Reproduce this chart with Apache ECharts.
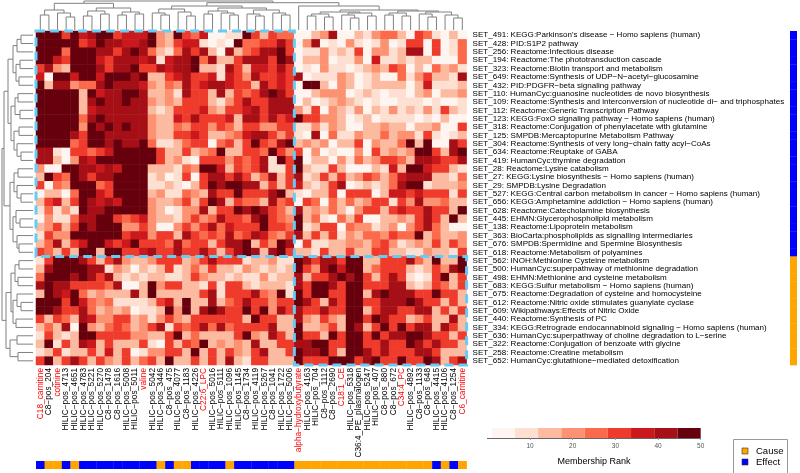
<!DOCTYPE html>
<html><head><meta charset="utf-8">
<script src="https://cdn.jsdelivr.net/npm/echarts@6/dist/echarts.min.js"></script>
<style>html,body{margin:0;padding:0;background:#fff}#c{width:800px;height:473px}</style>
</head><body><div id="c"></div>
<script>
const colLabels = ["C18_carnitine","C8−pos_204","cotinine","HILIC−pos_4713","HILIC−pos_4651","HILIC−pos_4783","HILIC−pos_5221","HILIC−pos_5270","C8−pos_1478","C8−pos_1616","HILIC−pos_5008","HILIC−pos_5011","valine","HILIC−pos_5042","HILIC−pos_3446","C8−pos_475","HILIC−pos_4077","C8−pos_1183","HILIC−pos_4226","C22:6_LPC","HILIC−pos_5016","HILIC−pos_5111","HILIC−pos_1096","HILIC−pos_1145","C8−pos_1734","HILIC−pos_4119","HILIC−pos_5267","C8−pos_1041","HILIC−pos_1722","HILIC−pos_5006","alpha−hydroxybutyrate","HILIC−pos_4163","HILIC−pos_704","C8−pos_1112","C8−pos_2690","C18:1_CE","HILIC−pos_5318","C36:4_PE_plasmalogen","HILIC−pos_5247","HILIC−pos_407","C8−pos_880","C8−pos_672","C34:4_PC","HILIC−pos_4892","C8−pos_1133","C8−pos_648","HILIC−pos_4415","HILIC−pos_4106","C8−pos_1254","C6_carnitine"];
const redLabels = ["C18_carnitine","cotinine","valine","C22:6_LPC","alpha−hydroxybutyrate","C18:1_CE","C34:4_PC","C6_carnitine"];
const rowLabels = [
"SET_491: KEGG:Parkinson's disease − Homo sapiens (human)",
"SET_428: PID:S1P2 pathway",
"SET_256: Reactome:Infectious disease",
"SET_194: Reactome:The phototransduction cascade",
"SET_323: Reactome:Biotin transport and metabolism",
"SET_649: Reactome:Synthesis of UDP−N−acetyl−glucosamine",
"SET_432: PID:PDGFR−beta signaling pathway",
"SET_110: HumanCyc:guanosine nucleotides de novo biosynthesis",
"SET_109: Reactome:Synthesis and interconversion of nucleotide di− and triphosphates",
"SET_112: Reactome:Generic Transcription Pathway",
"SET_123: KEGG:FoxO signaling pathway − Homo sapiens (human)",
"SET_318: Reactome:Conjugation of phenylacetate with glutamine",
"SET_125: SMPDB:Mercaptopurine Metabolism Pathway",
"SET_304: Reactome:Synthesis of very long−chain fatty acyl−CoAs",
"SET_634: Reactome:Reuptake of GABA",
"SET_419: HumanCyc:thymine degradation",
"SET_28: Reactome:Lysine catabolism",
"SET_27: KEGG:Lysine biosynthesis − Homo sapiens (human)",
"SET_29: SMPDB:Lysine Degradation",
"SET_527: KEGG:Central carbon metabolism in cancer − Homo sapiens (human)",
"SET_656: KEGG:Amphetamine addiction − Homo sapiens (human)",
"SET_628: Reactome:Catecholamine biosynthesis",
"SET_445: EHMN:Glycerophospholipid metabolism",
"SET_138: Reactome:Lipoprotein metabolism",
"SET_363: BioCarta:phospholipids as signalling intermediaries",
"SET_676: SMPDB:Spermidine and Spermine Biosynthesis",
"SET_618: Reactome:Metabolism of polyamines",
"SET_562: INOH:Methionine Cysteine metabolism",
"SET_500: HumanCyc:superpathway of methionine degradation",
"SET_498: EHMN:Methionine and cysteine metabolism",
"SET_683: KEGG:Sulfur metabolism − Homo sapiens (human)",
"SET_675: Reactome:Degradation of cysteine and homocysteine",
"SET_612: Reactome:Nitric oxide stimulates guanylate cyclase",
"SET_609: Wikipathways:Effects of Nitric Oxide",
"SET_440: Reactome:Synthesis of PC",
"SET_334: KEGG:Retrograde endocannabinoid signaling − Homo sapiens (human)",
"SET_636: HumanCyc:superpathway of choline degradation to L−serine",
"SET_322: Reactome:Conjugation of benzoate with glycine",
"SET_258: Reactome:Creatine metabolism",
"SET_652: HumanCyc:glutathione−mediated detoxification"];
// column type: C = Cause, E = Effect
const colGroup = ["E","C","C","E","C","E","E","E","E","E","E","E","E","E","C","E","C","C","E","E","E","E","C","E","E","E","E","E","E","E","C","C","C","C","C","C","C","C","C","C","C","C","C","C","C","C","E","C","E","C"];
const rowGroup = ["E","E","E","E","E","E","E","E","E","E","E","E","E","E","E","E","E","E","E","E","E","E","E","E","E","E","E","C","C","C","C","C","C","C","C","C","C","C","C","C"];
const groupNames = {C:"Cause", E:"Effect"};
const groupColors = {C:"#FFA500", E:"#0000FF"};
const rankBreaks = [1, 6.44, 11.89, 17.33, 22.78, 28.22, 33.67, 39.11, 44.56, 50];
const rankColors = ["#FFF5F0","#FEE0D2","#FCBBA1","#FC9272","#FB6A4A","#EF3B2C","#CB181D","#A50F15","#67000D"];
const legendTicks = [10, 20, 30, 40, 50];
// blocks framed with dashed lines: [colFrom, colTo, rowFrom, rowTo]
const blocks = [[1,30,1,27],[31,50,28,40]];
// dendrograms: [height, left, right], leaves = 1-based index
const colTree = [29,
  [26.7, [20, [15, 1, 2], [17, 3, [13, 4, 5]]], [22, [19, [14, 6, 7], [16, 8, 9]], [18, [15, 10, 11], [16, 12, 13]]]],
  [27.3,
    [24, [21, [17, 14, [15, 15, 16]], [18, 17, [14, 18, 19]]], [22, [19, [16, 20, 21], [17, 22, [15, 23, 24]]], [20, [16, 25, [14, 26, 27]], [17, 28, [15, 29, 30]]]]],
    [24, 31, [20, [18, [16, [14, 32, 33], [13, 34, 35]], [17, [15, 36, [12, 37, 38]], [14, 39, 40]]], [19, [17, [15, 41, 42], [14, 43, 44]], [18, [16, 45, [13, 46, 47]], [15, 48, [12, 49, 50]]]]]]]];
const rowTree = [31,
  [29,
    [25, [20, [16, [12, 1, 2], 3], [17, [13, 4, 5], [14, 6, 7]]], [22, [18, [15, 8, 9], [13, 10, 11]], [19, [14, 12, 13], [16, 14, [12, 15, 16]]]]],
    [23, [19, [15, 17, 18], [16, 19, [12, 20, 21]]], [20, [17, 22, [13, 23, 24]], [16, 25, [14, 26, 27]]]]],
  [27, [22, [18, [14, 28, 29], [15, 30, 31]], [20, [16, 32, [12, 33, 34]], [17, 35, 36]]], [23, [16, 37, 38], [15, 39, 40]]]];
// membership rank, rows x columns
const membership = [
[47,47,47,31,47,36,42,47,47,31,36,36,36,47,20,14,47,31,25,36,3,3,8,8,47,31,14,31,25,25,3,3,14,20,42,3,3,14,8,20,25,25,14,3,31,25,8,3,14,3],
[47,47,47,47,47,31,36,47,42,42,36,36,42,47,20,14,31,36,36,8,3,8,3,47,25,25,31,31,42,31,3,20,42,3,8,3,20,8,3,8,20,3,8,31,31,3,31,3,8,25],
[47,47,47,25,47,47,47,42,42,31,42,47,42,25,14,8,25,42,31,42,14,3,42,14,25,31,42,42,47,31,3,8,8,20,8,14,8,31,3,20,20,8,14,42,42,3,31,3,8,25],
[47,47,36,31,47,47,47,36,31,42,42,42,36,42,8,36,42,42,47,25,42,14,14,31,42,42,42,31,47,42,3,14,14,20,3,8,8,20,3,36,8,8,14,8,14,14,3,3,3,25],
[31,42,20,14,47,47,47,42,31,42,42,47,31,31,42,36,42,42,47,14,14,8,42,31,14,36,36,31,42,31,3,8,3,20,8,8,3,8,14,20,14,31,25,3,14,3,25,14,20,8],
[36,3,47,47,36,47,47,36,47,47,47,42,47,14,14,31,36,42,31,31,36,8,36,31,20,42,31,31,36,31,42,3,8,8,8,20,14,3,8,14,3,3,25,8,20,31,14,14,8,42],
[47,14,42,42,20,25,25,42,47,42,42,42,36,20,14,25,20,42,31,36,42,42,36,31,31,14,42,31,36,31,3,47,47,14,3,20,14,3,8,14,14,14,14,3,14,36,8,8,8,14],
[47,47,47,47,47,14,47,36,42,42,47,47,42,14,14,20,8,42,31,31,14,42,14,31,25,31,42,47,42,31,3,3,14,20,20,20,3,8,14,8,3,8,8,3,14,20,3,14,14,20],
[47,47,47,47,47,14,42,47,42,42,47,42,42,20,14,20,14,31,31,31,14,8,20,31,42,31,31,42,42,42,3,14,3,8,14,20,14,8,3,8,3,3,8,8,8,3,8,3,3,8],
[47,47,47,47,47,14,36,42,42,42,42,42,42,14,8,14,31,31,31,36,20,14,31,31,36,42,31,42,42,42,20,8,31,3,20,14,8,20,3,14,8,20,8,14,8,20,8,31,14,8],
[47,47,47,47,47,25,42,47,42,42,42,42,42,20,14,14,36,31,42,31,31,31,36,14,42,42,31,42,31,36,47,31,31,20,20,14,3,8,14,3,8,8,8,8,3,8,3,14,3,3],
[47,47,47,47,47,20,47,42,47,42,47,42,42,20,14,14,25,20,31,31,20,31,25,14,31,31,20,20,31,31,8,8,20,8,20,14,3,3,14,14,20,14,14,3,14,14,20,3,3,31],
[47,47,47,47,42,31,47,47,42,42,42,42,42,20,14,14,31,31,36,31,14,14,20,25,36,42,42,31,20,31,8,3,42,3,25,8,8,20,14,14,25,14,20,20,8,31,8,3,8,14],
[47,47,47,47,25,31,47,47,42,47,42,42,47,25,8,8,14,25,31,31,3,25,31,14,31,47,31,25,42,47,14,20,14,20,3,14,14,31,3,20,14,14,25,47,14,47,3,3,42,31],
[42,42,8,3,31,31,25,31,36,47,47,47,47,47,31,14,14,31,14,20,25,47,14,14,31,31,25,47,31,20,31,3,20,3,8,3,3,20,3,31,14,20,14,20,47,47,31,14,42,47],
[42,42,14,3,20,42,36,47,47,47,47,47,47,47,31,14,20,8,3,31,31,31,20,31,25,31,42,8,47,31,47,3,14,14,3,20,8,25,14,20,31,31,25,14,42,42,36,31,31,42],
[20,3,3,47,47,42,42,36,42,36,47,47,47,14,14,14,8,25,20,47,47,36,14,31,25,31,42,8,8,31,47,14,8,8,31,14,3,3,3,14,8,36,14,47,47,36,31,31,14,8],
[14,47,31,25,47,42,31,42,42,47,47,47,47,8,14,3,8,31,3,31,42,42,31,42,31,14,25,42,14,31,42,8,14,31,14,31,14,20,31,25,14,25,36,42,42,42,14,14,8,25],
[31,3,25,20,47,47,47,25,31,47,47,47,47,8,8,14,8,3,14,31,47,42,47,47,42,42,14,31,14,31,36,14,8,14,31,42,3,8,14,8,14,25,42,47,47,8,14,14,14,20],
[3,14,14,3,25,47,47,36,31,47,47,47,47,14,20,8,8,25,20,14,42,31,31,47,31,31,31,42,47,14,8,3,14,14,31,3,31,31,31,3,14,36,36,31,36,31,31,31,8,31],
[14,31,36,14,31,47,42,36,42,36,47,47,47,20,14,14,20,31,14,31,47,42,14,31,25,25,14,42,25,31,3,31,25,3,25,14,25,14,20,31,31,8,31,20,42,20,20,25,14,14],
[8,25,8,20,8,47,42,42,47,47,47,47,47,20,14,3,8,20,20,42,14,31,31,47,42,47,42,31,25,14,42,14,20,14,25,14,3,20,31,31,14,31,36,31,31,42,31,31,14,47],
[3,20,8,8,25,42,42,47,47,31,25,31,36,20,14,14,8,20,31,20,25,42,31,31,25,42,47,31,25,20,47,14,25,8,3,25,14,31,3,3,14,14,20,14,31,42,31,14,47,14],
[14,20,31,14,31,47,42,47,47,47,20,20,31,20,3,3,20,31,20,31,42,25,36,31,31,31,47,31,31,25,47,8,14,31,31,3,25,20,20,8,14,20,3,20,31,42,25,14,3,3],
[8,31,20,20,47,47,47,47,47,47,31,36,36,20,31,31,14,42,31,25,31,25,42,25,31,42,36,25,20,31,42,14,31,14,31,8,20,14,25,25,20,31,25,25,47,14,25,14,14,20],
[14,25,42,14,31,36,47,47,36,31,36,47,31,31,31,25,42,25,31,31,14,31,42,42,47,14,31,20,47,42,3,31,8,8,14,14,20,20,14,25,31,20,8,14,20,14,31,14,31,20],
[31,25,14,31,14,47,47,14,47,47,31,31,36,42,31,31,42,31,31,42,31,14,31,42,47,42,14,42,47,31,14,14,8,31,14,14,31,14,14,31,31,14,14,8,8,20,14,14,8,31],
[8,31,47,47,47,42,31,14,31,42,20,14,14,20,31,31,31,14,20,31,42,31,31,31,8,14,14,20,8,8,47,42,31,42,42,31,47,47,14,14,31,31,31,42,25,14,47,14,14,47],
[14,42,47,47,47,47,42,42,8,20,14,3,14,8,14,31,8,14,25,14,31,14,14,8,20,14,8,14,8,14,47,31,20,42,47,36,47,47,14,25,31,31,31,14,8,14,31,20,42,47],
[25,47,47,47,42,47,42,31,42,14,8,14,8,14,14,8,8,14,31,20,14,14,8,14,8,8,20,8,14,14,42,14,31,31,42,47,42,47,31,14,31,42,31,8,3,8,31,47,14,31],
[42,47,42,42,31,31,31,31,25,42,3,3,14,47,20,31,31,14,14,8,31,8,31,31,14,8,14,14,14,8,42,31,47,47,42,31,47,47,31,31,31,42,42,14,8,14,31,25,14,31],
[14,47,42,36,47,25,14,20,14,14,14,42,14,47,14,14,14,14,14,31,42,8,31,31,31,42,25,20,47,8,47,31,47,47,31,31,47,47,14,42,47,42,42,42,31,31,47,31,31,14],
[47,47,47,31,47,36,25,20,25,8,8,8,8,14,31,36,14,47,14,14,42,14,25,31,42,31,31,20,31,31,47,42,31,14,42,31,47,47,31,31,42,42,42,47,42,31,31,14,31,14],
[47,47,42,31,31,42,25,14,20,14,20,3,8,8,14,47,20,47,14,42,47,42,31,31,47,31,47,20,42,31,42,31,31,42,31,31,47,47,14,31,42,42,31,31,42,42,14,31,14,31],
[31,14,31,25,14,42,36,20,20,31,31,14,20,8,20,31,20,14,31,31,31,31,31,31,14,47,31,31,14,14,42,20,14,31,20,14,47,47,31,47,42,31,31,14,20,31,14,14,42,14],
[14,25,14,42,3,47,20,14,25,31,25,14,20,31,42,8,31,25,31,42,25,42,25,31,31,31,31,42,14,14,47,14,14,20,31,14,47,42,14,31,47,31,47,31,42,42,14,42,31,14],
[8,31,14,8,14,47,47,31,31,31,31,20,20,14,14,31,47,14,25,14,14,14,14,31,47,20,14,42,31,14,47,31,31,14,47,31,47,47,31,47,31,42,42,47,47,42,31,31,14,31],
[14,47,8,31,14,42,36,14,31,14,14,14,31,8,3,31,14,31,25,47,14,20,14,20,14,42,14,14,31,31,42,42,47,47,31,31,47,47,31,31,42,31,31,47,42,31,42,31,31,14],
[8,14,31,8,14,14,31,14,36,14,31,3,8,20,20,31,31,14,47,14,31,14,31,20,14,31,42,14,14,31,47,42,42,47,31,14,47,47,42,31,42,31,31,31,42,42,31,14,14,14],
[31,47,14,31,42,31,14,31,20,14,31,14,25,31,14,47,14,14,31,14,31,14,42,14,8,31,31,14,14,14,47,31,31,31,47,47,47,31,42,47,31,31,47,31,31,47,42,14,31,42]];

const FONT = "'Liberation Sans', Arial, Helvetica, sans-serif";
const HM = {left: 36, top: 31, width: 430.6, height: 334};

function treeSegments(tree, orient) {
  const segs = [];
  function walk(n) {
    if (typeof n === 'number') return {p: n - 0.5, h: 0};
    const a = walk(n[1]), b = walk(n[2]), h = n[0];
    const pts = [[a.p, a.h], [a.p, h], [b.p, h], [b.p, b.h]];
    segs.push({coords: orient === 'top' ? pts : pts.map(q => [q[1], q[0]])});
    return {p: (a.p + b.p) / 2, h: h};
  }
  walk(tree);
  return segs;
}

const heatData = [];
membership.forEach((row, r) => row.forEach((v, c) => heatData.push([c, r, v])));

const pieces = rankColors.map((col, i) => i < rankColors.length - 1
  ? {gte: rankBreaks[i], lt: rankBreaks[i + 1], color: col}
  : {gte: rankBreaks[i], lte: rankBreaks[i + 1], color: col});

const hidden = {show: false};
const chart = echarts.init(document.getElementById('c'), null, {width: 800, height: 473});

chart.setOption({
  animation: false,
  backgroundColor: '#fff',
  textStyle: {fontFamily: FONT},
  grid: [
    {left: HM.left, top: HM.top, width: HM.width, height: HM.height},
    {left: HM.left, top: 0, width: HM.width, height: 30},
    {left: 0, top: HM.top, width: 33, height: HM.height},
    {left: HM.left, top: 461, width: HM.width, height: 8},
    {left: 790, top: HM.top, width: 7, height: HM.height},
    {left: 487.4, top: 428, width: 213.3, height: 10}
  ],
  xAxis: [
    {gridIndex: 0, type: 'category', data: colLabels, axisLine: hidden, axisTick: hidden, splitLine: hidden,
     axisLabel: {rotate: 90, interval: 0, fontSize: 8.3, margin: 3, fontFamily: FONT,
       color: (v) => redLabels.indexOf(v) >= 0 ? '#FF0000' : '#000000'}},
    {gridIndex: 1, type: 'value', min: 0, max: 50, show: false},
    {gridIndex: 2, type: 'value', min: 0, max: 33, inverse: true, show: false},
    {gridIndex: 3, type: 'category', data: colLabels, show: false},
    {gridIndex: 4, type: 'category', data: ['g'], show: false},
    {gridIndex: 5, type: 'value', min: 0, max: 50, interval: 10, splitLine: hidden,
     axisLine: {show: true, lineStyle: {color: '#666', width: 1}},
     axisTick: {show: true, length: 2, lineStyle: {color: '#999'}},
     axisLabel: {showMinLabel: false, fontSize: 6.5, color: '#555', margin: 5, fontFamily: FONT},
     name: 'Membership Rank', nameLocation: 'middle', nameGap: 19,
     nameTextStyle: {fontSize: 9, color: '#000', fontFamily: FONT}}
  ],
  yAxis: [
    {gridIndex: 0, type: 'category', data: rowLabels, inverse: true, position: 'right',
     axisLine: hidden, axisTick: hidden, splitLine: hidden,
     axisLabel: {interval: 0, fontSize: 8.05, margin: 6, color: '#000', fontFamily: FONT}},
    {gridIndex: 1, type: 'value', min: 0, max: 30, show: false},
    {gridIndex: 2, type: 'value', min: 0, max: 40, inverse: true, show: false},
    {gridIndex: 3, type: 'category', data: ['g'], show: false},
    {gridIndex: 4, type: 'category', data: rowLabels, inverse: true, show: false},
    {gridIndex: 5, type: 'value', min: 0, max: 1, show: false}
  ],
  visualMap: {type: 'piecewise', show: false, seriesIndex: 0, dimension: 2, pieces: pieces},
  series: [
    {type: 'heatmap', xAxisIndex: 0, yAxisIndex: 0, data: heatData, progressive: 0,
     itemStyle: {borderWidth: 0}, emphasis: {disabled: true}},
    {type: 'custom', xAxisIndex: 0, yAxisIndex: 0, data: blocks, z: 5, clip: false,
     renderItem: (params, api) => {
       const b = blocks[params.dataIndex];
       const sz = api.size([1, 1]);
       const p0 = api.coord([b[0] - 1, b[2] - 1]);
       const p1 = api.coord([b[1] - 1, b[3] - 1]);
       const x0 = p0[0] - sz[0] / 2, y0 = p0[1] - sz[1] / 2;
       const x1 = p1[0] + sz[0] / 2, y1 = p1[1] + sz[1] / 2;
       return {type: 'rect', shape: {x: x0, y: y0, width: x1 - x0, height: y1 - y0},
         style: {fill: null, stroke: '#66CBF5', lineWidth: 3, lineDash: [9, 5]}};
     }},
    {type: 'lines', coordinateSystem: 'cartesian2d', xAxisIndex: 1, yAxisIndex: 1, polyline: true,
     data: treeSegments(colTree, 'top'), lineStyle: {color: '#808080', width: 1, opacity: 1}, silent: true},
    {type: 'lines', coordinateSystem: 'cartesian2d', xAxisIndex: 2, yAxisIndex: 2, polyline: true,
     data: treeSegments(rowTree, 'left'), lineStyle: {color: '#808080', width: 1, opacity: 1}, silent: true},
    {type: 'custom', xAxisIndex: 3, yAxisIndex: 3, data: colGroup.map((g, i) => [i, 0]),
     renderItem: (params, api) => {
       const i = params.dataIndex;
       const p = api.coord([i, 0]); const sz = api.size([1, 1]);
       return {type: 'rect', shape: {x: p[0] - sz[0] / 2, y: p[1] - sz[1] / 2, width: sz[0] + 0.3, height: sz[1]},
         style: {fill: groupColors[colGroup[i]]}};
     }},
    {type: 'custom', xAxisIndex: 4, yAxisIndex: 4, data: rowGroup.map((g, i) => [0, i]),
     renderItem: (params, api) => {
       const i = params.dataIndex;
       const p = api.coord([0, i]); const sz = api.size([1, 1]);
       return {type: 'rect', shape: {x: p[0] - sz[0] / 2, y: p[1] - sz[1] / 2, width: sz[0], height: sz[1] + 0.3},
         style: {fill: groupColors[rowGroup[i]]}};
     }},
    {type: 'custom', xAxisIndex: 5, yAxisIndex: 5, data: rankColors.map((c, i) => [rankBreaks[i], rankBreaks[i + 1]]),
     renderItem: (params, api) => {
       const i = params.dataIndex;
       const a = api.coord([rankBreaks[i], 1]); const b = api.coord([rankBreaks[i + 1], 0]);
       return {type: 'rect', shape: {x: a[0], y: a[1], width: b[0] - a[0], height: b[1] - a[1]},
         style: {fill: rankColors[i]}};
     }}
  ],
  graphic: [
    {type: 'rect', shape: {x: 733.5, y: 439.5, width: 54, height: 40}, style: {fill: '#fff', stroke: '#999', lineWidth: 1}},
    {type: 'rect', shape: {x: 742, y: 448, width: 6, height: 6}, style: {fill: groupColors.C, stroke: '#333', lineWidth: 0.6}},
    {type: 'text', x: 756, y: 451.5, style: {text: groupNames.C, fontSize: 9.5, fill: '#000', fontFamily: FONT, verticalAlign: 'middle'}},
    {type: 'rect', shape: {x: 742, y: 459, width: 6, height: 6}, style: {fill: groupColors.E, stroke: '#333', lineWidth: 0.6}},
    {type: 'text', x: 756, y: 462.5, style: {text: groupNames.E, fontSize: 9.5, fill: '#000', fontFamily: FONT, verticalAlign: 'middle'}}
  ]
});
</script>
</body></html>
